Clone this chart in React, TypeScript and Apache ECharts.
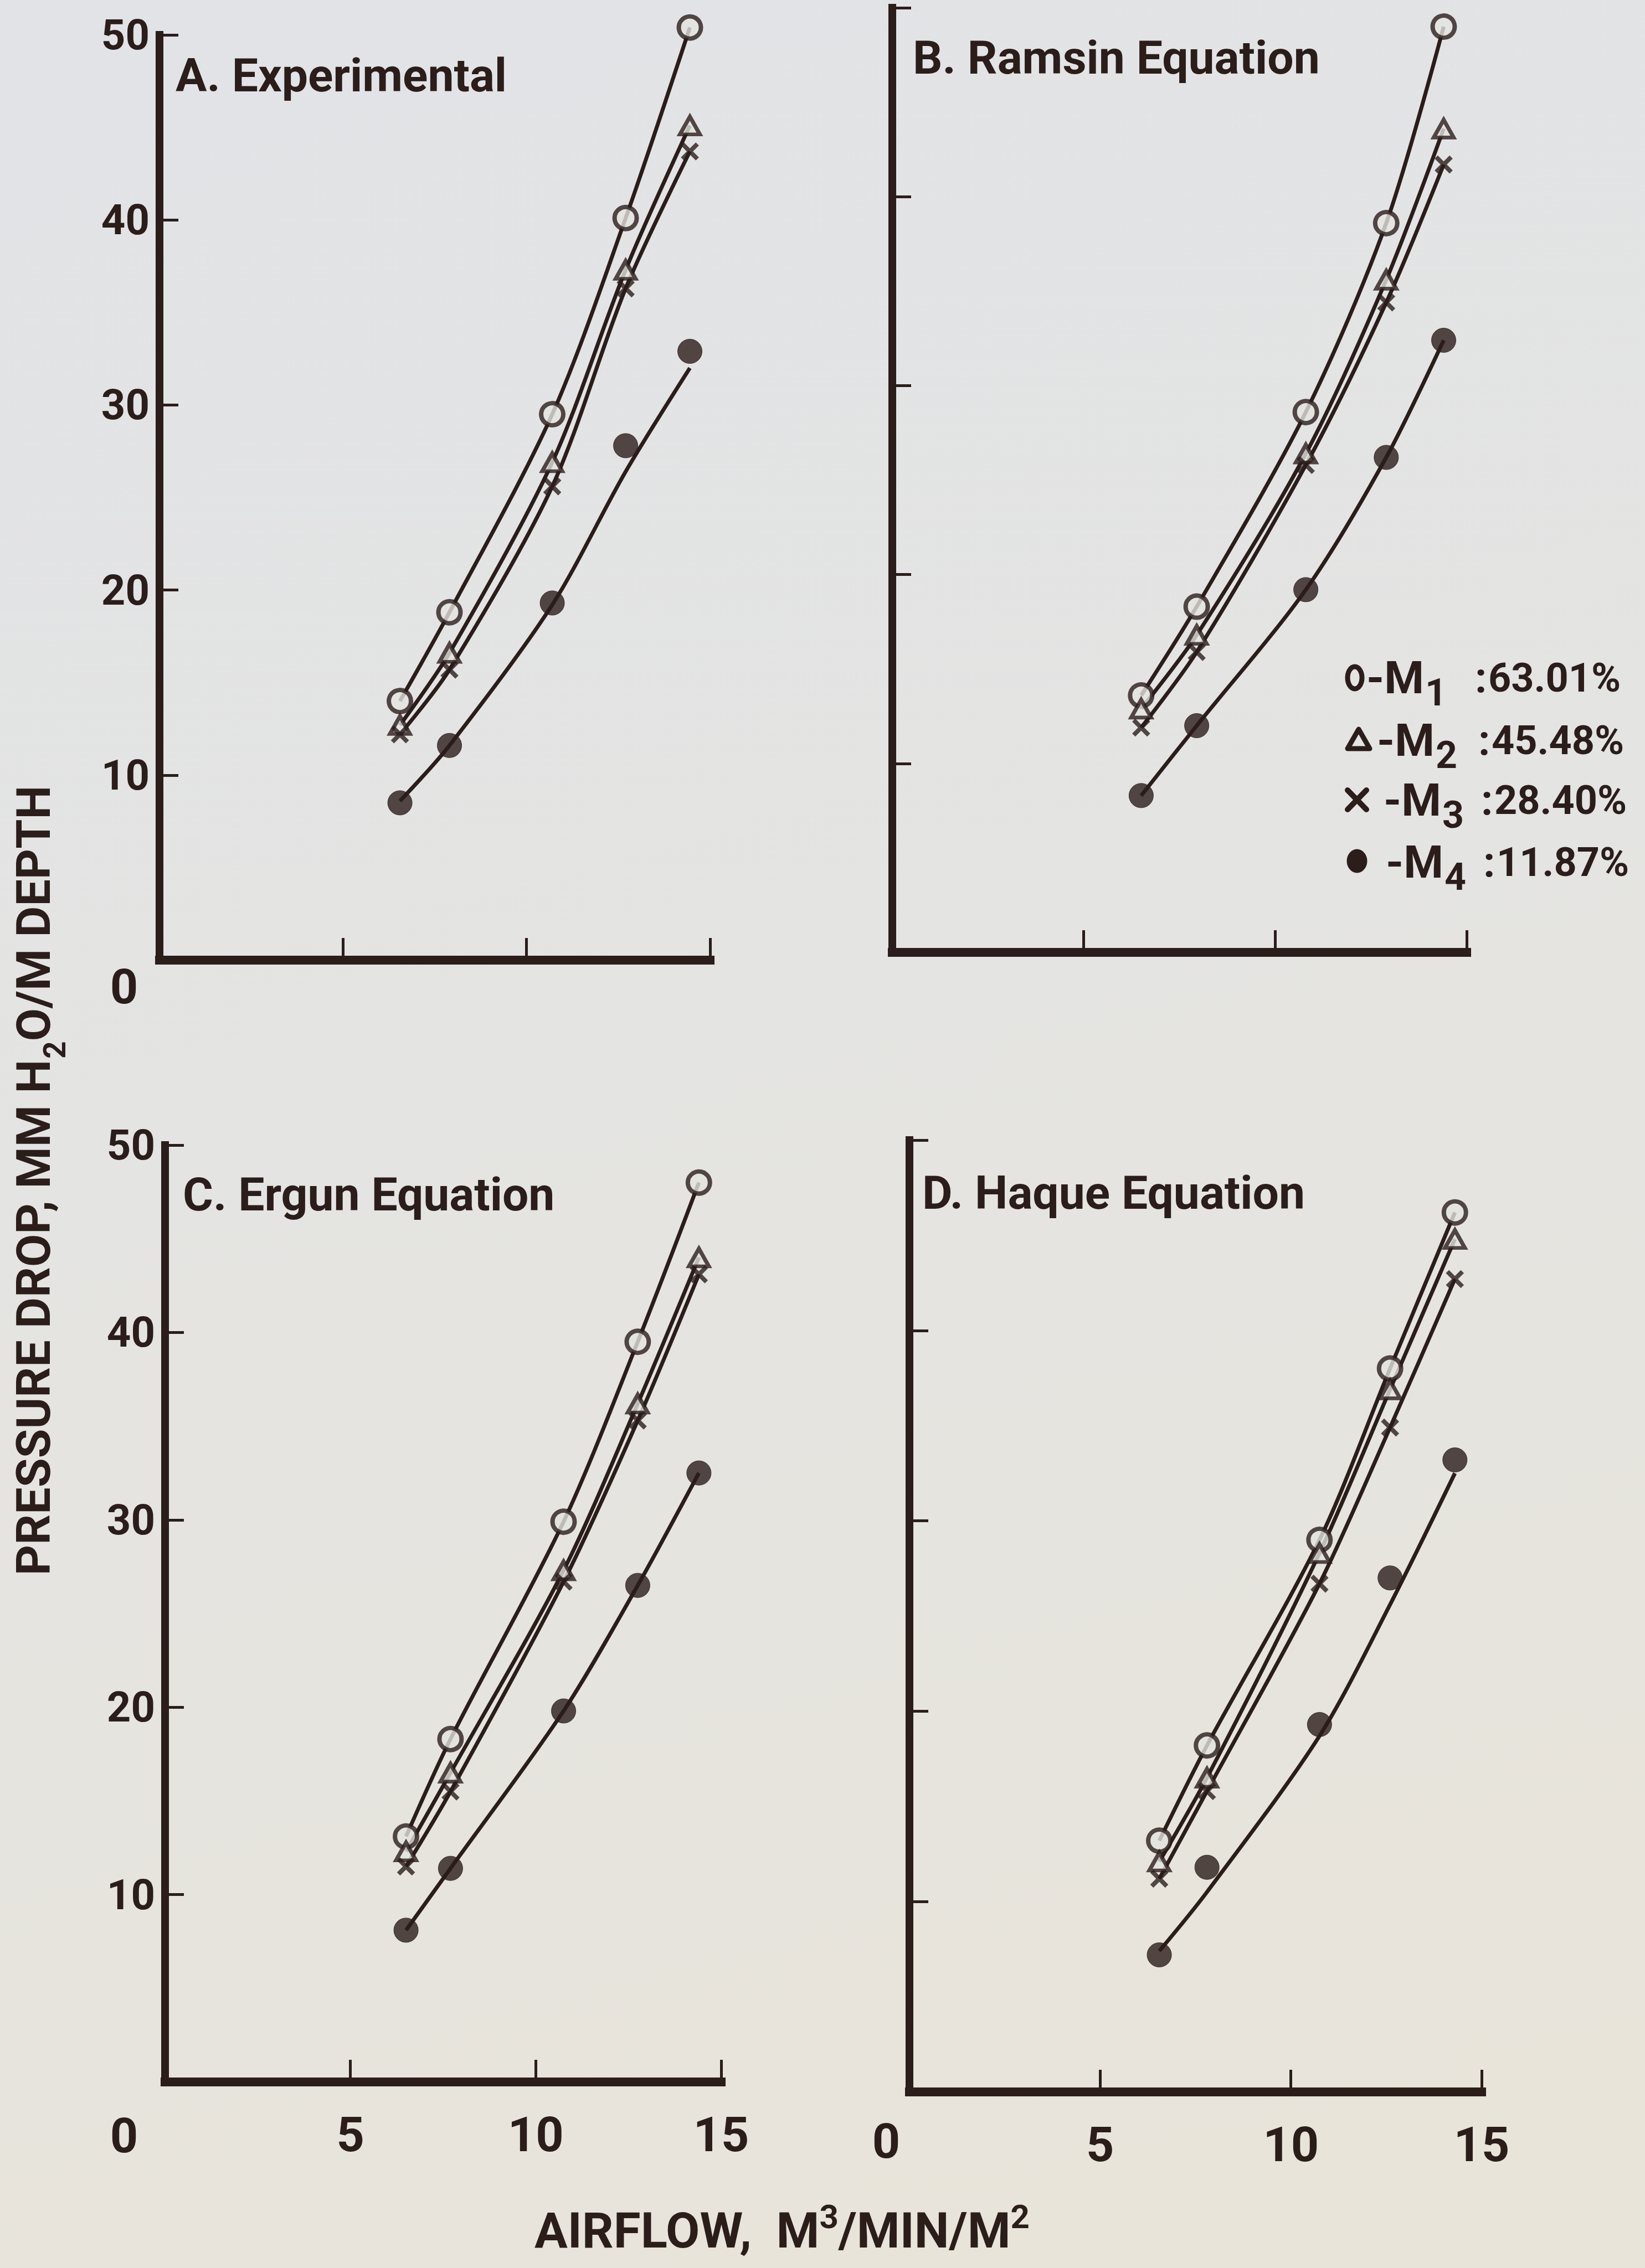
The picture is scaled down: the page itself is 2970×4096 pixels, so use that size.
import React, { useEffect, useRef } from "react";
import * as echarts from "echarts";

// ---------- data ----------
const panelTitles = ["A. Experimental", "B. Ramsin Equation", "C. Ergun Equation", "D. Haque Equation"];
const materialIds = ["1", "2", "3", "4"];
const moistureContents = ["63.01%", "45.48%", "28.40%", "11.87%"];

// A. Experimental
const airflowA = [6.55, 7.9, 10.7, 12.7, 14.45];
const expM1 = [14.0, 18.8, 29.5, 40.1, 50.4];
const expM2 = [12.7, 16.6, 26.9, 37.3, 45.1];
const expM3 = [12.2, 15.7, 25.6, 36.3, 43.7];
const expM4 = [8.5, 11.6, 19.3, 27.8, 32.9];
const expM4Fit = [8.6, 11.6, 19.2, 26.4, 32.0];

// B. Ramsin equation
const airflowB = [6.5, 7.95, 10.8, 12.9, 14.4];
const ramM1 = [13.6, 18.3, 28.6, 38.6, 49.0];
const ramM2 = [12.9, 16.8, 26.4, 35.6, 43.6];
const ramM3 = [11.9, 15.9, 25.8, 34.4, 41.7];
const ramM4 = [8.3, 12.0, 19.2, 26.2, 32.4];

// C. Ergun equation
const airflowC = [6.5, 7.7, 10.75, 12.75, 14.4];
const ergM1 = [13.1, 18.3, 29.9, 39.5, 48.0];
const ergM2 = [12.3, 16.5, 27.3, 36.2, 44.0];
const ergM3 = [11.5, 15.5, 26.7, 35.3, 43.1];
const ergM4 = [8.1, 11.4, 19.8, 26.5, 32.5];

// D. Haque equation
const airflowD = [6.55, 7.8, 10.75, 12.6, 14.3];
const haqM1 = [13.2, 18.2, 29.0, 38.0, 46.2];
const haqM2 = [12.1, 16.5, 28.3, 36.9, 44.8];
const haqM3 = [11.2, 15.8, 26.7, 34.9, 42.7];
const haqM4 = [7.2, 11.8, 19.3, 27.0, 33.2];
const haqM4Fit = [7.4, 10.5, 18.7, 25.6, 32.5];

const airflowTicks = { min: 0, max: 15, interval: 5 };
const pressureTicks = { min: 0, max: 50, interval: 10 };

// ---------- styling / layout ----------
const W = 2970;
const H = 4096;
const INK = "#2a1d1a";
const PAPER = "#e4e3df";
const FONT = "Roboto, 'DejaVu Sans', sans-serif";

const grids = [
  { left: 288, top: 63, width: 994, height: 1671 },
  { left: 1611, top: 14, width: 1037, height: 1706 },
  { left: 298, top: 2068, width: 1004, height: 1692 },
  { left: 1642, top: 2059, width: 1033, height: 1719 },
];

const panels = [
  { x: airflowA, pts: [expM1, expM2, expM3, expM4], fit: [expM1, expM2, expM3, expM4Fit] },
  { x: airflowB, pts: [ramM1, ramM2, ramM3, ramM4], fit: [ramM1, ramM2, ramM3, ramM4] },
  { x: airflowC, pts: [ergM1, ergM2, ergM3, ergM4], fit: [ergM1, ergM2, ergM3, ergM4] },
  { x: airflowD, pts: [haqM1, haqM2, haqM3, haqM4], fit: [haqM1, haqM2, haqM3, haqM4Fit] },
];

const markerStyles: any[] = [
  { symbol: "circle", symbolSize: 40, itemStyle: { color: PAPER, borderColor: INK, borderWidth: 8 } },
  { symbol: "triangle", symbolSize: [36, 32], itemStyle: { color: PAPER, borderColor: INK, borderWidth: 7 } },
  {
    symbol: "path://M0,0L10,10M10,0L0,10",
    symbolSize: 27,
    itemStyle: { color: "rgba(0,0,0,0)", borderColor: INK, borderWidth: 8 },
  },
  { symbol: "circle", symbolSize: 44, itemStyle: { color: INK, borderColor: INK, borderWidth: 1 } },
];

function buildOption() {
  const series: any[] = [];
  panels.forEach((p, gi) => {
    p.fit.forEach((curve, mi) => {
      series.push({
        type: "line",
        name: "M" + materialIds[mi],
        xAxisIndex: gi,
        yAxisIndex: gi,
        data: p.x.map((v, k) => [v, curve[k]]),
        smooth: 0.3,
        showSymbol: false,
        silent: true,
        clip: false,
        lineStyle: { color: INK, width: 7 },
        z: 2,
      });
    });
    p.pts.forEach((vals, mi) => {
      series.push({
        type: "scatter",
        name: "M" + materialIds[mi],
        xAxisIndex: gi,
        yAxisIndex: gi,
        clip: false,
        data: p.x.map((v, k) => [v, vals[k]]),
        ...markerStyles[mi],
        z: 3,
      });
    });
  });

  const xAxis = grids.map((_, i) => ({
    type: "value",
    gridIndex: i,
    ...airflowTicks,
    axisLine: { show: true, onZero: false, lineStyle: { color: INK, width: 16, cap: "square" } },
    axisTick: { show: true, inside: true, length: 40, lineStyle: { color: INK, width: 5 } },
    axisLabel: {
      show: i >= 2,
      color: INK,
      fontFamily: FONT,
      fontWeight: "bold",
      fontSize: 88,
      margin: 50,
      formatter: (v: number) => (v === 0 ? "" : String(v)),
    },
    splitLine: { show: false },
  }));

  const yAxis = grids.map((_, i) => ({
    type: "value",
    gridIndex: i,
    ...pressureTicks,
    axisLine: { show: true, onZero: false, lineStyle: { color: INK, width: 14, cap: "square" } },
    axisTick: { show: true, inside: true, length: 34, lineStyle: { color: INK, width: 5 } },
    axisLabel: {
      show: i === 0 || i === 2,
      color: INK,
      fontFamily: FONT,
      fontWeight: "bold",
      fontSize: 76,
      margin: 18,
      formatter: (v: number) => (v === 0 ? "" : String(v)),
    },
    splitLine: { show: false },
  }));

  const textStyle = (size: number, align = "left") => ({
    fill: INK,
    fontFamily: FONT,
    fontWeight: "bold",
    fontSize: size,
    align,
    verticalAlign: "middle",
  });

  const titlePos = [
    [317, 136],
    [1648, 104],
    [330, 2157],
    [1665, 2154],
  ];
  const elements: any[] = [];
  panelTitles.forEach((t, i) => {
    elements.push({ type: "text", x: titlePos[i][0], y: titlePos[i][1], style: { text: t, ...textStyle(84) } });
  });

  // stand-alone zero labels at the axis corners
  [
    [224, 1781],
    [224, 3856],
    [1600, 3866],
  ].forEach(([x, y]) => {
    elements.push({ type: "text", x, y, style: { text: "0", ...textStyle(88, "center") } });
  });

  // axis names
  elements.push({
    type: "text",
    x: 60,
    y: 2132,
    rotation: Math.PI / 2,
    style: {
      text: "PRESSURE DROP, MM H{s|2}O/M DEPTH",
      ...textStyle(86, "center"),
      rich: {
        s: { fontSize: 55, fontFamily: FONT, fontWeight: "bold", fill: INK, padding: [78, 0, 0, 2], verticalAlign: "middle" },
      },
    },
  });
  elements.push({
    type: "text",
    x: 1412,
    y: 4028,
    style: {
      text: "AIRFLOW,  M{p|3}/MIN/M{p|2}",
      ...textStyle(89, "center"),
      rich: {
        p: { fontSize: 60, fontFamily: FONT, fontWeight: "bold", fill: INK, padding: [0, 0, 50, 0], verticalAlign: "middle" },
      },
    },
  });

  // legend (key to material moisture contents)
  const rowY = [1224, 1337, 1445, 1557];
  const labelX = [2467, 2486, 2498, 2502];
  const colonX = [2663, 2669, 2674, 2678];
  elements.push({
    type: "ellipse",
    shape: { cx: 2446, cy: rowY[0], rx: 13, ry: 20 },
    style: { fill: "none", stroke: INK, lineWidth: 9 },
  });
  elements.push({
    type: "polygon",
    shape: { points: [[2453, rowY[1] - 20], [2473, rowY[1] + 15], [2433, rowY[1] + 15]] },
    style: { fill: "none", stroke: INK, lineWidth: 9, lineJoin: "round" },
  });
  elements.push({
    type: "line",
    shape: { x1: 2433, y1: rowY[2] - 18, x2: 2467, y2: rowY[2] + 17 },
    style: { stroke: INK, lineWidth: 10, lineCap: "round" },
  });
  elements.push({
    type: "line",
    shape: { x1: 2467, y1: rowY[2] - 18, x2: 2433, y2: rowY[2] + 17 },
    style: { stroke: INK, lineWidth: 10, lineCap: "round" },
  });
  elements.push({
    type: "ellipse",
    shape: { cx: 2450, cy: rowY[3] - 2, rx: 18, ry: 21 },
    style: { fill: INK, stroke: INK, lineWidth: 1 },
  });
  materialIds.forEach((id, i) => {
    elements.push({
      type: "text",
      x: labelX[i],
      y: rowY[i],
      style: {
        text: "-M{s|" + id + "}",
        ...textStyle(82),
        rich: {
          s: { fontSize: 68, fontFamily: FONT, fontWeight: "bold", fill: INK, padding: [54, 0, 0, 2], verticalAlign: "middle" },
        },
      },
    });
    elements.push({
      type: "text",
      x: colonX[i],
      y: rowY[i],
      style: { text: ":", ...textStyle(76) },
    });
    elements.push({
      type: "text",
      x: colonX[i] + 24,
      y: rowY[i],
      style: { text: moistureContents[i], ...textStyle(72) },
    });
  });

  return {
    animation: false,
    backgroundColor: "transparent",
    grid: grids.map((g) => ({ ...g, containLabel: false })),
    xAxis,
    yAxis,
    series,
    graphic: { elements },
  };
}

export default function App() {
  const ref = useRef<HTMLDivElement>(null);
  useEffect(() => {
    if (!ref.current) return;
    const chart = echarts.init(ref.current, null, { renderer: "svg", width: W, height: H });
    chart.setOption(buildOption() as any);
    return () => chart.dispose();
  }, []);
  return (
    <div
      ref={ref}
      style={{
        position: "absolute",
        left: 0,
        top: 0,
        width: W,
        height: H,
        background: "linear-gradient(165deg, #e2e3e7 0%, #e4e4e2 45%, #e9e4d9 100%)",
      }}
    />
  );
}
